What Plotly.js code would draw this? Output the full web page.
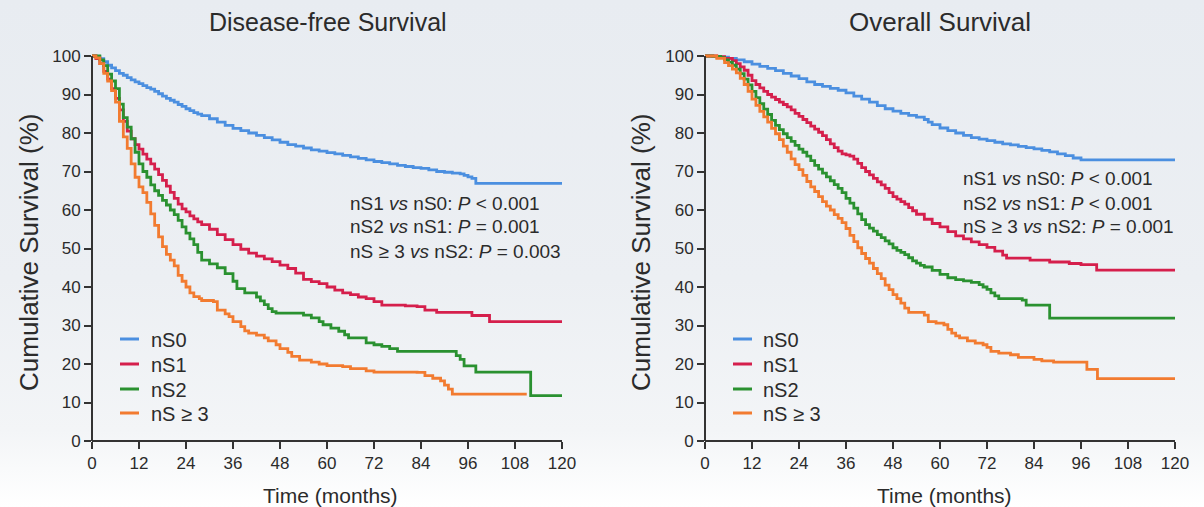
<!DOCTYPE html>
<html>
<head>
<meta charset="utf-8">
<script src="https://cdn.plot.ly/plotly-3.0.1.min.js"></script>
<style>
html,body{margin:0;padding:0;}
body{width:1204px;height:507px;background:linear-gradient(to bottom,#e8ecf1 0%,#eceff3 55%,#f3f5f7 85%,#ffffff 100%);}
#chart{width:1204px;height:507px;}
</style>
</head>
<body>
<div id="chart"></div>
<script>
// ---------- DATA ----------
const groupNames = ["nS0", "nS1", "nS2", "nS \u2265 3"];
const groupColors = ["#4b8fe0", "#d51f4c", "#2a9130", "#f27b30"];
const panelTitles = ["Disease-free Survival", "Overall Survival"];
const xTickVals = [0, 12, 24, 36, 48, 60, 72, 84, 96, 108, 120];
const yTickVals = [0, 10, 20, 30, 40, 50, 60, 70, 80, 90, 100];

// Disease-free survival
const dfsTime_nS0 = [0,1,2,3,4,5,6,7,8,9,10,11,12,13,14,15,16,17,18,19,20,21,22,23,24,25,26,27,28,30,32,34,36,38,40,42,44,46,48,50,52,54,56,58,60,62,64,66,68,70,72,74,76,78,80,82,84,86,88,90,92,94,95,96,97,98,120];
const dfsSurv_nS0 = [100,99.8,99.3,98.5,97.6,96.9,96.2,95.5,95,94.4,93.8,93.3,92.8,92.3,91.8,91.4,90.8,90.2,89.6,89,88.5,88,87.4,86.9,86.3,85.8,85.3,84.9,84.5,83.7,82.8,82,81.2,80.6,80,79.4,78.8,78.2,77.6,77,76.6,76.1,75.6,75.3,74.9,74.6,74.2,73.8,73.4,73,72.6,72.3,72,71.6,71.3,71,70.8,70.4,70,69.8,69.6,69.4,69,68.6,68.2,66.9,66.9];
const dfsTime_nS1 = [0,1,2,3,4,5,6,7,8,9,10,11,12,13,14,15,16,17,18,19,20,21,22,23,24,25,26,27,28,30,32,34,36,38,40,42,44,46,48,50,52,54,56,58,60,62,64,66,68,70,72,74,80,83,85,88,97,101.5,120];
const dfsSurv_nS1 = [100,99.3,98,96,94,91.5,89,86,83,80.5,78.5,77,75.8,74.5,73.2,72,70.6,69.2,67.7,66.2,64.6,63,61.5,60.3,59.5,58.5,57.7,56.9,56.2,55,53.6,52.3,51,49.8,48.8,48,47.3,46.6,45.7,44.8,43.6,42,41.4,40.9,40,39.2,38.5,38,37.4,37,36.2,35.3,35.1,34.9,34,33.4,32.6,31,31];
const dfsTime_nS2 = [0,2,3,4,5,6,7,8,9,10,11,12,13,14,15,16,17,18,19,20,21,22,23,24,25,26,27,28,30,32,34,36,37,39,42,43,44,45,46,47,54,56,58,59,61,63,64.5,65.5,70,72,74,76,78,93,94,95,98,112,120];
const dfsSurv_nS2 = [100,99,97.5,95.3,93.5,91.5,87.5,84,81.5,78.5,75,72,70,68.5,66.5,65,63.8,62.5,61.3,60,58.8,57.3,55.6,54,52.5,51,49,47,46,45,43.5,41.5,39.6,38.5,37.4,36.4,35.4,34.4,33.6,33.2,32.7,32,31,30.2,29.3,28.5,27.6,26.8,25.5,25,24.6,24,23.3,22.2,21.2,19.5,17.9,11.8,11.8];
const dfsTime_nS3 = [0,1,2,3,4,5,6,7,8,9,10,11,12,13,14,15,16,17,18,19,20,21,22,23,24,25,26,27.4,28,31,32,34,35,36,38,39,40,42,44,45,47,48,50,51,53,56,58,60,64,66,70,72,83,85,87,89,90,91,92,111];
const dfsSurv_nS3 = [100,99.5,98,95.5,93.5,91,88,83,79,76,72,68.5,66,64.5,62,59,56,53,50.5,48.5,47,45.5,43,41.5,40,38.5,37.5,37,36.5,36.2,34,33,32.3,31,29.7,28.6,28,27.5,26.8,26,25,24,23,22,21,20.5,20,19.6,19.3,18.8,18.2,17.9,17.8,17,16.3,15.6,14.5,13.5,12.2,12.2];

// Overall survival
const osTime_nS0 = [0,2,4,6,8,10,12,14,16,18,20,22,24,26,28,30,32,34,36,38,40,42,44,46,48,50,52,54,56,57,58,60,62,64,66,68,70,72,74,76,78,80,82,84,86,88,90,92,94,96,120];
const osSurv_nS0 = [100,99.9,99.7,99.4,99,98.5,97.9,97.3,96.8,96.2,95.5,94.8,94.1,93.3,92.6,92.1,91.6,91.1,90.4,89.6,88.8,88,87.1,86.3,85.7,85.1,84.6,84.1,83.5,82.8,82.2,81.3,80.6,80,79.4,78.8,78.4,78,77.6,77.2,76.9,76.5,76.2,75.9,75.5,75.1,74.6,74.1,73.5,73,73];
const osTime_nS1 = [0,3,5,7,8,9,10,11,12,13,14,15,16,17,18,19,20,21,22,23,24,25,26,27,28,29,30,31,32,33,34,35,36,37,38,39,40,41,42,43,44,45,46,47,48,49,50,51,52,53,54,56,58,60,62,64,66,68,70,72,74,76,77,83,88,93,96,100,120];
const osSurv_nS1 = [100,99.8,99.4,98.8,98,97.2,96.3,95,93.6,92.6,91.7,90.8,90,89.3,88.7,88,87.4,86.8,86,85.1,84.3,83.5,82.7,81.8,81,80.2,79.3,78.3,77.2,76.2,75.3,74.6,74.3,74,73.2,72.1,71,70,69.1,68.2,67.3,66.5,65.6,64.5,63.5,62.8,62.2,61.5,60.6,59.8,58.9,57.6,56.5,55.6,54.4,53.3,52.5,51.7,51,50.3,49.3,48.3,47.5,47,46.5,46.1,45.8,44.4,44.4];
const osTime_nS2 = [0,2,4,5,6,7,8,9,10,11,12,13,14,15,16,17,18,19,20,21,22,23,24,25,26,27,28,29,30,31,32,33,34,35,36,37,38,39,40,41,42,43,44,45,46,47,48,49,50,51,52,53,54,55,56,58,60,62,64,66,68,70,71,72,73,74,75,81,82,88,120];
const osSurv_nS2 = [100,99.9,99.6,99,98.4,97.6,96.6,95.4,94,92.5,90.8,89.2,87.6,86.2,84.8,83.3,82,80.9,79.8,78.8,77.8,76.8,75.8,75,74,72.8,71.6,70.6,69.6,68.6,67.6,66.6,65.6,64.5,63,61.8,60.5,59,57.5,56.2,55.3,54.5,53.6,52.8,52,51.2,50.2,49.5,49,48.4,47.6,46.8,46.2,45.6,45.2,44.3,43.3,42.4,41.9,41.6,41.2,40.6,40,39.4,38.5,37.7,37,36.6,35.3,31.9,31.9];
const osTime_nS3 = [0,3,5,6,7,8,9,10,11,12,13,14,15,16,17,18,19,20,21,22,23,24,25,26,27,28,29,30,31,32,33,34,35,36,37,38,39,40,41,42,43,44,45,46,47,48,49,50,51,52,56,57,59,61,62,63,64,65,67,69,71,72,73,75,78,80,84,86,89,97.5,100.2,120];
const osSurv_nS3 = [100,99.4,98.3,97.5,96.6,95.6,94.2,92.6,90.8,88.8,87.2,85.6,84.2,82.8,81.2,79.8,78.3,76.6,75,73.3,71.8,70.5,69,67.4,66,64.8,63.5,62.2,61,60,58.8,57.8,56.7,55.2,53.4,51.8,50.2,48.7,47.4,46.2,44.8,43.5,42.2,40.5,39.3,38,37,35.8,34.5,33.4,32.7,31,30.6,30.2,29,28,27.3,26.8,26,25.4,25,24.3,23.3,22.8,22.4,21.7,21.2,20.8,20.5,18.6,16.2,16.2];

const dfsTimes = [dfsTime_nS0, dfsTime_nS1, dfsTime_nS2, dfsTime_nS3];
const dfsSurvs = [dfsSurv_nS0, dfsSurv_nS1, dfsSurv_nS2, dfsSurv_nS3];
const osTimes = [osTime_nS0, osTime_nS1, osTime_nS2, osTime_nS3];
const osSurvs = [osSurv_nS0, osSurv_nS1, osSurv_nS2, osSurv_nS3];

// ---------- GEOMETRY ----------
const W = 1204, H = 507;
const px = v => v / W;
const py = v => (H - v) / H;
const FONT = "Liberation Sans, Arial, Helvetica, sans-serif";
const TXT = "#2b2b2b";

const traces = [];
groupNames.forEach((g, i) => {
  traces.push({x: dfsTimes[i], y: dfsSurvs[i], type: "scatter", mode: "lines",
    line: {shape: "hv", color: groupColors[i], width: 2.8},
    name: g, xaxis: "x", yaxis: "y", showlegend: false});
});
groupNames.forEach((g, i) => {
  traces.push({x: osTimes[i], y: osSurvs[i], type: "scatter", mode: "lines",
    line: {shape: "hv", color: groupColors[i], width: 2.8},
    name: g, xaxis: "x2", yaxis: "y2", showlegend: false});
});

const yTop = 102;
const yDom = [py(441), py(441 - yTop * 3.85)];
function xa(dom, anchor) {
  return {domain: dom, range: [0, 120], anchor: anchor, showgrid: false, zeroline: false, showline: false,
    tickmode: "array", tickvals: xTickVals, ticks: "outside", ticklen: 7, tickwidth: 2,
    tickcolor: "#333", tickfont: {family: FONT, size: 17, color: TXT}, fixedrange: true};
}
function ya(dom, anchor) {
  return {domain: dom, range: [0, yTop], anchor: anchor, showgrid: false, zeroline: false, showline: false,
    tickmode: "array", tickvals: yTickVals, ticks: "outside", ticklen: 7, tickwidth: 2,
    tickcolor: "#333", tickfont: {family: FONT, size: 17, color: TXT}, fixedrange: true};
}

const L = [92, 562], R = [705, 1175];
const shapes = [];
[L, R].forEach(p => {
  shapes.push({type: "line", xref: "paper", yref: "paper", x0: px(p[0]), x1: px(p[1]), y0: py(441), y1: py(441), line: {color: "#333", width: 2}});
  shapes.push({type: "line", xref: "paper", yref: "paper", x0: px(p[0]), x1: px(p[0]), y0: py(441), y1: py(56), line: {color: "#333", width: 2}});
});

function ann(text, x, y, size, opts) {
  return Object.assign({text: text, xref: "paper", yref: "paper", x: px(x), y: py(y),
    showarrow: false, font: {family: FONT, size: size, color: TXT}, xanchor: "center", yanchor: "middle"}, opts || {});
}
const annotations = [
  ann(panelTitles[0], 328, 22, 25),
  ann(panelTitles[1], 940, 22, 26),
  ann("Cumulative Survival (%)", 29, 253, 26, {textangle: -90}),
  ann("Cumulative Survival (%)", 641, 253, 26, {textangle: -90}),
  ann("Time (months)", 330, 495, 21),
  ann("Time (months)", 944, 495, 21),
  ann("nS1 <i>vs</i> nS0: <i>P</i> &lt; 0.001", 348, 203, 19, {xanchor: "left"}),
  ann("nS2 <i>vs</i> nS1: <i>P</i> = 0.001", 348, 227, 19, {xanchor: "left"}),
  ann("nS \u2265 3 <i>vs</i> nS2: <i>P</i> = 0.003", 348, 251, 19, {xanchor: "left"}),
  ann("nS1 <i>vs</i> nS0: <i>P</i> &lt; 0.001", 961, 178, 19, {xanchor: "left"}),
  ann("nS2 <i>vs</i> nS1: <i>P</i> &lt; 0.001", 961, 203, 19, {xanchor: "left"}),
  ann("nS \u2265 3 <i>vs</i> nS2: <i>P</i> = 0.001", 961, 227, 19, {xanchor: "left"})
];

// legends (key line + label) for each panel
const legendRows = [339, 364, 389, 413];
[[120, 139, 149], [733, 752, 761]].forEach(pos => {
  groupNames.forEach((g, i) => {
    shapes.push({type: "line", xref: "paper", yref: "paper", x0: px(pos[0]), x1: px(pos[1]),
      y0: py(legendRows[i]), y1: py(legendRows[i]), line: {color: groupColors[i], width: 3}});
    annotations.push(ann(g, pos[2], legendRows[i] + 1, 20, {xanchor: "left"}));
  });
});

const layout = {
  width: W, height: H, margin: {l: 0, r: 0, t: 0, b: 0},
  paper_bgcolor: "rgba(0,0,0,0)", plot_bgcolor: "rgba(0,0,0,0)",
  showlegend: false,
  xaxis: xa([px(L[0]), px(L[1])], "y"), yaxis: ya(yDom, "x"),
  xaxis2: xa([px(R[0]), px(R[1])], "y2"), yaxis2: ya(yDom, "x2"),
  shapes: shapes, annotations: annotations
};

Plotly.newPlot("chart", traces, layout, {staticPlot: true, displayModeBar: false});
</script>
</body>
</html>
